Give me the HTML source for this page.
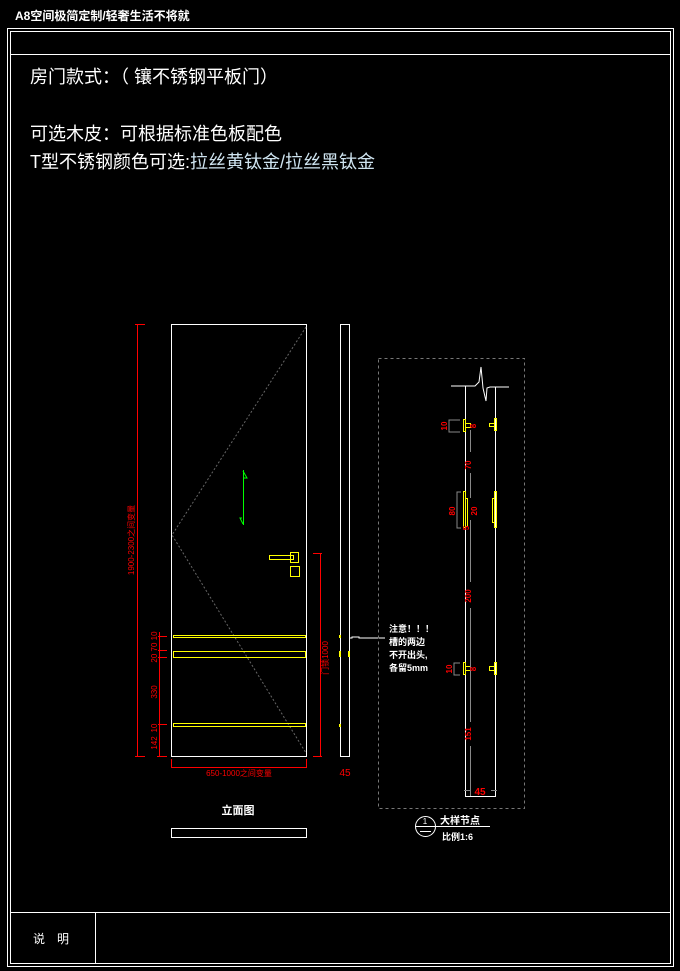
<!DOCTYPE html>
<html><head><meta charset="utf-8"><style>
html,body{margin:0;padding:0;background:#000;}
svg{display:block;}
text{font-family:"Liberation Sans","Noto Sans CJK SC",sans-serif;}
</style></head><body>
<svg width="680" height="971" viewBox="0 0 680 971" xmlns="http://www.w3.org/2000/svg">
<rect width="680" height="971" fill="#000"/>
<text x="15" y="20" fill="#fff" font-size="12" font-weight="bold">A8空间极简定制/轻奢生活不将就</text>
<rect x="7.5" y="28.5" width="666" height="938" fill="none" stroke="#fff" stroke-width="1"/>
<rect x="10.5" y="31.5" width="660" height="932" fill="none" stroke="#fff" stroke-width="1"/>
<line x1="10" y1="54.5" x2="671" y2="54.5" stroke="#fff"/>
<line x1="10" y1="912.5" x2="671" y2="912.5" stroke="#fff"/>
<line x1="95.5" y1="912" x2="95.5" y2="964" stroke="#fff"/>
<text x="33" y="943" fill="#fff" font-size="12">说　明</text>

<text x="30" y="83" fill="#fff" font-size="18">房门款式：（ 镶不锈钢平板门）</text>
<text x="30" y="140" fill="#fff" font-size="18">可选木皮：可根据标准色板配色</text>
<text x="30" y="168" fill="#fff" font-size="18">T型不锈钢颜色可选:<tspan fill="#cfe4f0">拉丝黄钛金/拉丝黑钛金</tspan></text>

<!-- door elevation -->
<rect x="171.5" y="324.5" width="135" height="432" fill="none" stroke="#fff"/>
<polyline points="306,327 172,535 306,753" fill="none" stroke="#666" stroke-dasharray="2,2"/>
<rect x="340.5" y="324.5" width="9" height="432" fill="none" stroke="#fff"/>
<line x1="243.5" y1="470" x2="243.5" y2="525" stroke="#0f0"/>
<polyline points="243,471 247,478 243,478" fill="none" stroke="#0f0"/>
<polyline points="243,524 240,518 242,518" fill="none" stroke="#0f0"/>
<rect x="269.5" y="555.5" width="24" height="4" fill="none" stroke="#ff0"/>
<rect x="290.5" y="552.5" width="8" height="10" fill="none" stroke="#ff0"/>
<rect x="290.5" y="566.5" width="9" height="10" fill="none" stroke="#ff0"/>
<rect x="173.5" y="635.5" width="132" height="2" fill="none" stroke="#ff0"/>
<rect x="173.5" y="651.5" width="132" height="6" fill="none" stroke="#ff0"/>
<rect x="173.5" y="723.5" width="132" height="3" fill="none" stroke="#ff0"/>
<g fill="#ff0"><rect x="339" y="635" width="2" height="3"/><rect x="339" y="651" width="2" height="6"/><rect x="348" y="651" width="2" height="6"/><rect x="339" y="724" width="2" height="3"/></g>
<polyline points="349,638 352,638 352,637 359,637 359,638 385,638" fill="none" stroke="#fff"/>

<!-- red dims -->
<g stroke="#f00" fill="none">
<line x1="137.5" y1="324" x2="137.5" y2="757"/>
<line x1="135" y1="324.5" x2="145" y2="324.5"/>
<line x1="135" y1="756.5" x2="145" y2="756.5"/>
<line x1="159.5" y1="632" x2="159.5" y2="757"/>
<line x1="157" y1="756.5" x2="167" y2="756.5"/>
<line x1="320.5" y1="553" x2="320.5" y2="757"/>
<line x1="313" y1="553.5" x2="322" y2="553.5"/>
<line x1="313" y1="756.5" x2="322" y2="756.5"/>
<line x1="171" y1="767.5" x2="307" y2="767.5"/>
<line x1="171.5" y1="759" x2="171.5" y2="768"/>
<line x1="306.5" y1="759" x2="306.5" y2="768"/>
<line x1="158" y1="636.5" x2="167" y2="636.5"/><line x1="158" y1="650.5" x2="167" y2="650.5"/><line x1="158" y1="657.5" x2="167" y2="657.5"/><line x1="158" y1="724.5" x2="167" y2="724.5"/>
</g>
<g fill="#f00" font-size="8">
<text transform="translate(134,540) rotate(-90)" text-anchor="middle">1900-2300之间变量</text>
<text transform="translate(157,743) rotate(-90)" text-anchor="middle">142</text>
<text transform="translate(157,728) rotate(-90)" text-anchor="middle">10</text>
<text transform="translate(157,692) rotate(-90)" text-anchor="middle">330</text>
<text transform="translate(157,647) rotate(-90)" text-anchor="middle">20 70 10</text>
<text transform="translate(328,658) rotate(-90)" text-anchor="middle">门锁1000</text>
<text x="239" y="776" text-anchor="middle">650-1000之间变量</text>
<text x="345" y="776" text-anchor="middle" font-size="10">45</text>
</g>
<text x="238" y="814" fill="#fff" font-size="11" font-weight="bold" text-anchor="middle">立面图</text>
<rect x="171.5" y="828.5" width="135" height="9" fill="none" stroke="#fff"/>

<!-- detail -->
<rect x="378.5" y="358.5" width="146" height="450" fill="none" stroke="#777" stroke-dasharray="3,3"/>
<polyline points="451,386 475,386 479,382 481,367 483,388 486,401 487,388 490,387 509,387" fill="none" stroke="#fff"/>
<line x1="465.5" y1="386" x2="465.5" y2="796" stroke="#fff"/>
<line x1="495.5" y1="387" x2="495.5" y2="796" stroke="#fff"/>
<line x1="465" y1="796.5" x2="496" y2="796.5" stroke="#fff"/>
<g stroke="#ff0" fill="none">
<rect x="463.5" y="419.5" width="2" height="12"/><rect x="465.5" y="423.5" width="5" height="4"/>
<rect x="494.5" y="418.5" width="2" height="12"/><rect x="489.5" y="423.5" width="5" height="3"/>
<rect x="463.5" y="491.5" width="2" height="36"/><rect x="465.5" y="498.5" width="2" height="28"/>
<rect x="494.5" y="491.5" width="2" height="36"/><rect x="492.5" y="498.5" width="2" height="24"/>
<rect x="463.5" y="662.5" width="2" height="12"/><rect x="465.5" y="666.5" width="5" height="4"/>
<rect x="494.5" y="662.5" width="2" height="12"/><rect x="489.5" y="666.5" width="5" height="4"/>
</g>
<g stroke="#888" fill="none">
<line x1="470.5" y1="430" x2="470.5" y2="452"/><line x1="470.5" y1="473" x2="470.5" y2="498"/><line x1="470.5" y1="520" x2="470.5" y2="582"/><line x1="470.5" y1="608" x2="470.5" y2="722"/><line x1="470.5" y1="746" x2="470.5" y2="796"/>
<polyline points="460,420 449,420 449,432 460,432"/>
<polyline points="461,492 457,492 457,528 461,528"/>
<polyline points="460,663 454,663 454,675 460,675"/>
<line x1="464" y1="790.5" x2="470" y2="790.5"/><line x1="491" y1="790.5" x2="497" y2="790.5"/>
</g>
<g fill="#f00" font-size="8" font-weight="bold">
<text transform="translate(447,426) rotate(-90)" text-anchor="middle">10</text>
<text transform="translate(476,426) rotate(-90)" text-anchor="middle">8</text>
<text transform="translate(471,465) rotate(-90)" text-anchor="middle">70</text>
<text transform="translate(455,511) rotate(-90)" text-anchor="middle">80</text>
<text transform="translate(477,511) rotate(-90)" text-anchor="middle">20</text>
<text transform="translate(469,528) rotate(-90)" text-anchor="middle">5</text>
<text transform="translate(471,596) rotate(-90)" text-anchor="middle">200</text>
<text transform="translate(452,669) rotate(-90)" text-anchor="middle">10</text>
<text transform="translate(476,669) rotate(-90)" text-anchor="middle">8</text>
<text transform="translate(471,734) rotate(-90)" text-anchor="middle">151</text>
<text x="480" y="795" text-anchor="middle" font-size="10">45</text>
</g>
<g fill="#fff" font-size="9" font-weight="bold">
<text x="389" y="632">注意！！！</text>
<text x="389" y="645">槽的两边</text>
<text x="389" y="658">不开出头,</text>
<text x="389" y="671">各留5mm</text>
</g>
<circle cx="425.5" cy="826.5" r="10" fill="none" stroke="#fff"/>
<line x1="415" y1="826.5" x2="490" y2="826.5" stroke="#fff"/>
<text x="425" y="824" fill="#fff" font-size="8" text-anchor="middle">1</text>
<line x1="420" y1="831.5" x2="431" y2="831.5" stroke="#fff"/>
<text x="440" y="824" fill="#fff" font-size="10" font-weight="bold">大样节点</text>
<text x="442" y="840" fill="#fff" font-size="9" font-weight="bold">比例1:6</text>
</svg>
</body></html>
